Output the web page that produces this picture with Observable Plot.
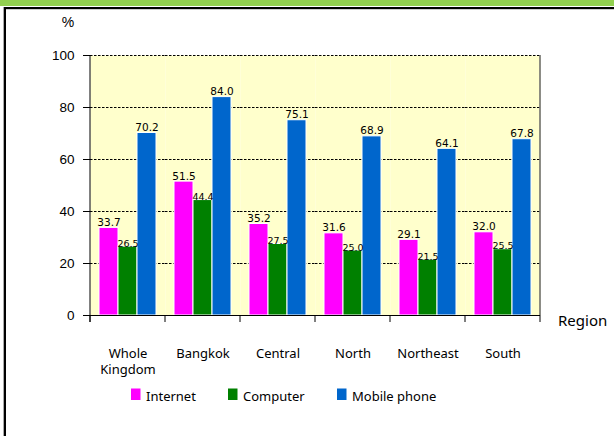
<!DOCTYPE html>
<html><head><meta charset="utf-8">
<script src="https://cdn.jsdelivr.net/npm/d3@7"></script>
<script src="https://cdn.jsdelivr.net/npm/@observablehq/plot@0.6"></script>
<style>body{margin:0;background:#fff;} #chart svg{display:block;background:#fff;}</style>
</head><body><div id="chart"></div>
<script>
const categories = ["Whole Kingdom", "Bangkok", "Central", "North", "Northeast", "South"];
const categoryLabels = ["Whole\nKingdom", "Bangkok", "Central", "North", "Northeast", "South"];
const series = ["Internet", "Computer", "Mobile phone"];
const internet = [33.7, 51.5, 35.2, 31.6, 29.1, 32.0];
const computer = [26.5, 44.4, 27.5, 25.0, 21.5, 25.5];
const mobile = [70.2, 84.0, 75.1, 68.9, 64.1, 67.8];
const colors = ["#FF00FF", "#008000", "#0066CC"];
const yTicks = [0, 20, 40, 60, 80, 100];
const yTitle = "%";
const xTitle = "Region";

const seriesValues = [internet, computer, mobile];
const data = [];
categories.forEach((c, i) => {
  series.forEach((s, j) => data.push({category: c, series: s, value: seriesValues[j][i]}));
});
const labelOf = new Map(categories.map((c, i) => [c, categoryLabels[i]]));

const sans = "'Noto Sans', sans-serif";
const plot = Plot.plot({
  width: 614, height: 436,
  marginLeft: 88, marginRight: 72, marginTop: 55, marginBottom: 121,
  style: {fontFamily: "'Liberation Sans', Arial, sans-serif", color: "#000", background: "#fff"},
  fx: {domain: categories, paddingInner: 0, paddingOuter: 0, axis: null, label: null},
  x: {domain: series, paddingInner: 0, paddingOuter: 0.41, axis: null, label: null},
  y: {domain: [0, 100], axis: null, label: null},
  color: {domain: series, range: colors},
  marks: [
    Plot.frame({fill: "#FFFFCC", stroke: null}),
    Plot.gridY(yTicks.filter(v => v > 0), {stroke: "#000", strokeOpacity: 1, strokeDasharray: "2.5,1.5", strokeWidth: 1}),
    Plot.barY(data, {fx: "category", x: "series", y: "value", fill: "series", stroke: "#fff", strokeWidth: 1, inset: 0}),
    Plot.text(data.filter(d => d.series !== "Computer"), {fx: "category", x: "series", y: "value", text: d => d.value.toFixed(1), lineAnchor: "bottom", dy: -2, fontSize: 10.5, fontFamily: "'DejaVu Sans', sans-serif", fill: "#000"}),
    Plot.text(data.filter(d => d.series === "Computer"), {fx: "category", x: "series", y: "value", text: d => d.value.toFixed(1), lineAnchor: "bottom", dy: 0, fontSize: 9.5, fontFamily: "'DejaVu Sans', sans-serif", fill: "#000"}),
    Plot.ruleY([0], {stroke: "#000", strokeWidth: 1}),
    Plot.text(categories, {fx: d => d, text: d => labelOf.get(d), frameAnchor: "bottom", lineAnchor: "top", dy: 31, fontSize: 13, lineHeight: 1.25, fontFamily: sans, fill: "#000"}),
    Plot.axisY({ticks: yTicks, tickSize: 7, tickPadding: 9, fontSize: 13.5, label: null})
  ]
});
document.getElementById("chart").append(plot);

const svg = d3.select(plot);
const fx = plot.scale("fx");
const ys = plot.scale("y");
const bw = fx.bandwidth;
const y0 = ys.apply(0), y100 = ys.apply(100);
const left = fx.apply(categories[0]);
const right = fx.apply(categories[categories.length - 1]) + bw;
const bounds = categories.map(c => fx.apply(c)).concat([right]);

const g = svg.append("g").attr("text-anchor", "start");
// y axis line
g.append("line").attr("x1", left).attr("x2", left).attr("y1", y100).attr("y2", y0 + 7).attr("stroke", "#000");
// right border of plot area
g.append("line").attr("x1", right).attr("x2", right).attr("y1", y100).attr("y2", y0).attr("stroke", "#666").attr("stroke-width", 1.5);
// category boundary ticks
bounds.forEach(b => g.append("line").attr("x1", b).attr("x2", b).attr("y1", y0).attr("y2", y0 + 7).attr("stroke", "#000"));
// titles
g.append("text").attr("x", 68).attr("y", 27).attr("text-anchor", "middle").attr("font-size", 14).attr("font-family", "'Liberation Sans', Arial, sans-serif").text(yTitle);
g.append("text").attr("x", 558).attr("y", 326).attr("text-anchor", "start").attr("font-size", 15).attr("font-family", sans).text(xTitle);
// legend
const legendX = [131, 228, 337];
series.forEach((s, i) => {
  g.append("rect").attr("x", legendX[i]).attr("y", 388.5).attr("width", 9.5).attr("height", 11.5).attr("fill", colors[i]);
  g.append("text").attr("x", legendX[i] + 15).attr("y", 400.5).attr("text-anchor", "start").attr("font-size", 13).attr("font-family", sans).text(s);
});
// page decoration: green band and border
const W = 614, H = 436;
g.append("rect").attr("x", 0).attr("y", 0).attr("width", W).attr("height", 6).attr("fill", "#92D050");
g.append("line").attr("x1", 3.5).attr("x2", 3.5).attr("y1", 7).attr("y2", H).attr("stroke", "#aaa");
g.append("line").attr("x1", 4).attr("x2", W).attr("y1", 8).attr("y2", 8).attr("stroke", "#000").attr("stroke-width", 2);
g.append("line").attr("x1", 5).attr("x2", 5).attr("y1", 7).attr("y2", H).attr("stroke", "#000").attr("stroke-width", 2);
g.append("line").attr("x1", 6).attr("x2", W).attr("y1", 9.5).attr("y2", 9.5).attr("stroke", "#ccc");
</script>
</body></html>
